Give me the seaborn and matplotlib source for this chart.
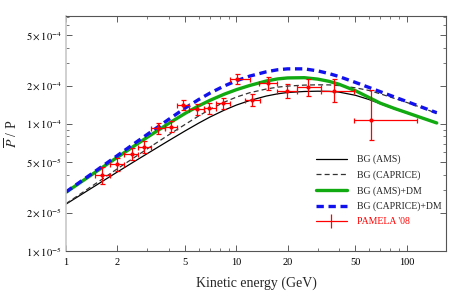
import numpy as np
import pandas as pd
import matplotlib
matplotlib.use('Agg')
import matplotlib.pyplot as plt
import matplotlib.ticker as mticker
from matplotlib.lines import Line2D
import seaborn as sns

# background curves (kinetic energy in GeV, ratio in units of 1e-5)
energy = [1, 1.5, 2, 2.5, 3, 4, 5, 6, 7, 8.5, 10, 12, 15, 17.5, 20, 25, 30, 35, 40,
          50, 60, 70, 85, 100, 120, 150]
bg_ams = [2.34, 3.29, 4.19, 5.04, 5.85, 7.39, 8.83, 10.16, 11.36, 12.88, 14.11, 15.34,
          16.63, 17.31, 17.73, 18.05, 18.15, 18.1, 17.86, 16.85, 15.61, 14.45, 13.12,
          12.2, 11.25, 10.17]
bg_caprice = [2.36, 3.41, 4.44, 5.42, 6.38, 8.21, 9.93, 11.57, 13.05, 14.89, 16.31,
              17.67, 18.89, 19.54, 19.91, 20.27, 20.38, 20.35, 20.1, 19.3, 18.4, 17.3,
              15.9, 14.8, 13.59, 12.15]
bg_ams_dm = [2.9, 4.21, 5.47, 6.69, 7.87, 10.1, 12.13, 13.89, 15.38, 17.21, 18.66,
             20.15, 21.84, 22.69, 23.09, 23.19, 22.6, 21.7, 20.6, 18.3, 16.2, 14.6,
             13.25, 12.3, 11.3, 10.2]
bg_caprice_dm = [2.92, 4.29, 5.64, 6.98, 8.29, 10.87, 13.35, 15.58, 17.54, 19.98,
                 21.91, 23.88, 25.81, 26.79, 27.22, 27.22, 26.25, 24.98, 23.69, 21.28,
                 19.43, 17.98, 16.32, 15.05, 13.73, 12.28]

# PAMELA '08 points (ratio in units of 1e-4)
pam_e = [1.63, 2.0, 2.44, 2.88, 3.47, 4.15, 4.88, 5.9, 6.94, 8.4, 10.1, 12.4, 15.4,
         19.7, 26.2, 37.2, 61.7]
pam_lo_e = [1.48, 1.81, 2.2, 2.65, 3.15, 3.8, 4.5, 5.3, 6.5, 7.6, 9.2, 11.3, 13.6,
            17.4, 22.8, 31.5, 49]
pam_hi_e = [1.81, 2.2, 2.65, 3.15, 3.8, 4.5, 5.3, 6.5, 7.6, 9.2, 12.0, 13.8, 17.4,
            22.8, 31.5, 49, 115]
pam_val = [0.396, 0.484, 0.58, 0.66, 0.93, 0.95, 1.41, 1.31, 1.33, 1.46, 2.27, 1.54,
           2.09, 1.82, 1.95, 1.83, 1.07]
pam_err_lo = [0.06, 0.06, 0.06, 0.07, 0.09, 0.09, 0.13, 0.13, 0.14, 0.15, 0.2, 0.16,
              0.22, 0.22, 0.3, 0.35, 0.32]
pam_err_hi = [0.065, 0.06, 0.065, 0.07, 0.09, 0.1, 0.13, 0.13, 0.14, 0.15, 0.22, 0.17,
              0.24, 0.24, 0.33, 0.42, 0.78]

sns.set_theme(style='ticks')
plt.rcParams['font.family'] = ['Liberation Serif', 'DejaVu Serif']
plt.rcParams['mathtext.fontset'] = 'stix'

fig = plt.figure(figsize=(4.5, 2.93), dpi=100)
ax = fig.add_axes([66 / 450, 42 / 293, 380 / 450, 235 / 293])

curves = pd.DataFrame({'E': energy,
                       'ams': np.array(bg_ams) * 1e-5,
                       'caprice': np.array(bg_caprice) * 1e-5,
                       'ams_dm': np.array(bg_ams_dm) * 1e-5,
                       'caprice_dm': np.array(bg_caprice_dm) * 1e-5})

sns.lineplot(data=curves, x='E', y='ams', ax=ax, color='black', lw=0.9)
sns.lineplot(data=curves, x='E', y='caprice', ax=ax, color='#333333', lw=0.9)
ax.lines[-1].set_linestyle((0, (4, 2.5)))
sns.lineplot(data=curves, x='E', y='ams_dm', ax=ax, color='#11aa11', lw=2.4)
sns.lineplot(data=curves, x='E', y='caprice_dm', ax=ax, color='#1111ee', lw=2.4)
ax.lines[-1].set_linestyle((0, (2.2, 1.4)))

pv = np.array(pam_val) * 1e-4
pe = np.array(pam_e)
ax.errorbar(pe, pv,
            xerr=[pe - np.array(pam_lo_e), np.array(pam_hi_e) - pe],
            yerr=[np.array(pam_err_lo) * 1e-4, np.array(pam_err_hi) * 1e-4],
            fmt='o', ms=2, color='red', ecolor='red', elinewidth=0.9,
            capsize=1.8, capthick=0.9, zorder=5)

ax.set_xscale('log')
ax.set_yscale('log')
ax.set_xlim(1, 170)
ax.set_ylim(1e-5, 7.1e-4)

ax.xaxis.set_major_locator(mticker.FixedLocator([1, 2, 5, 10, 20, 50, 100]))
ax.xaxis.set_major_formatter(mticker.FixedFormatter(['1', '2', '5', '10', '20', '50', '100']))
ax.xaxis.set_minor_locator(mticker.LogLocator(base=10, subs=[3, 4, 6, 7, 8, 9], numticks=10))
ax.xaxis.set_minor_formatter(mticker.NullFormatter())

yt = [1e-5, 2e-5, 5e-5, 1e-4, 2e-4, 5e-4]
ylab = [r'$1\times10^{-5}$', r'$2\times10^{-5}$', r'$5\times10^{-5}$',
        r'$1\times10^{-4}$', r'$2\times10^{-4}$', r'$5\times10^{-4}$']
ax.yaxis.set_major_locator(mticker.FixedLocator(yt))
ax.yaxis.set_major_formatter(mticker.FixedFormatter(ylab))
ax.yaxis.set_minor_locator(mticker.LogLocator(base=10, subs=[3, 4, 6, 7, 8, 9], numticks=10))
ax.yaxis.set_minor_formatter(mticker.NullFormatter())

ax.tick_params(which='both', direction='in', top=True, right=True,
               labelsize=7.5, colors='#444444', labelcolor='black', pad=3)
ax.tick_params(axis='x', which='major', pad=5)
ax.tick_params(which='major', length=4, width=0.6)
ax.tick_params(which='minor', length=2, width=0.5)

for side in ['top', 'bottom', 'right']:
    ax.spines[side].set_color('#555555')
    ax.spines[side].set_linewidth(0.8)
ax.spines['left'].set_color('#c8c8c8')
ax.spines['left'].set_linewidth(1.2)

ax.set_xlabel('Kinetic energy (GeV)', fontsize=10, labelpad=7)
ax.set_ylabel(r'$\overline{P}$ / P', fontsize=10, labelpad=4)

# legend entries
handles = [
    Line2D([], [], color='black', lw=0.9),
    Line2D([], [], color='#333333', lw=0.9, ls=(0, (4, 2.5))),
    Line2D([], [], color='#11aa11', lw=2.4),
    Line2D([], [], color='#1111ee', lw=2.4, ls=(0, (2.2, 1.4))),
    Line2D([], [], color='red', lw=0.9, marker='|', markersize=10, markeredgewidth=0.9),
]
labels = ['BG (AMS)', 'BG (CAPRICE)', 'BG (AMS)+DM', 'BG (CAPRICE)+DM', "PAMELA '08"]
leg = ax.legend(handles, labels, loc='upper left', bbox_to_anchor=(0.647, 0.426),
                frameon=False, fontsize=7, handlelength=3.2, handletextpad=1.0,
                labelspacing=0.62, borderaxespad=0)
leg.get_texts()[-1].set_color('red')

fig.savefig('out.png', dpi=100)
